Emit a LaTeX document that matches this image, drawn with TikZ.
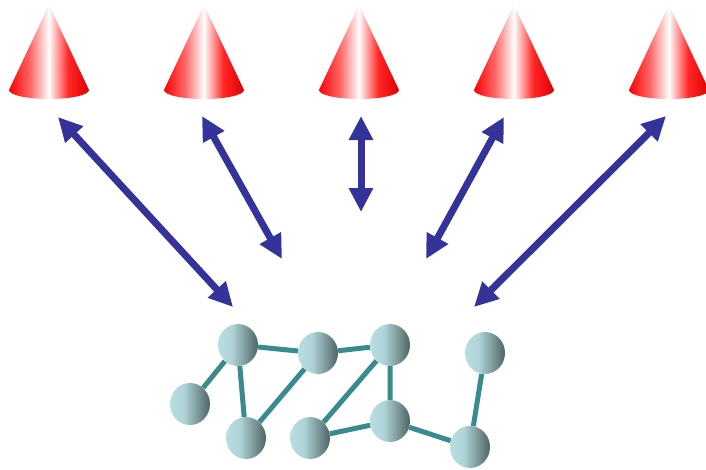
\documentclass[tikz,border=0pt]{standalone}
\usepackage{tikz}
\usetikzlibrary{arrows.meta, shapes.geometric, backgrounds}
\definecolor{arrowblue}{RGB}{51,51,153}
\definecolor{edgeteal}{RGB}{58,139,144}
\definecolor{balllight}{RGB}{184,222,226}
\definecolor{balldark}{RGB}{78,100,101}
\pgfdeclarehorizontalshading{conered}{100bp}{color(0bp)=(red); color(25bp)=(red); color(38bp)=(red!60); color(48bp)=(red!10); color(50bp)=(white); color(52bp)=(red!15); color(62bp)=(red!85); color(75bp)=(red!88!black); color(100bp)=(red!88!black)}
\pgfdeclarehorizontalshading{ballshade}{100bp}{color(0bp)=(balllight); color(25bp)=(balllight); color(42bp)=(balllight!92!balldark); color(75bp)=(balldark); color(100bp)=(balldark)}
\tikzset{
  ball/.style={ellipse, minimum width=40pt, minimum height=42pt, inner sep=0pt, shading=ballshade},
  bond/.style={edgeteal, line width=5pt},
  link/.style={arrowblue, line width=7pt, {Triangle[length=24pt,width=23pt]}-{Triangle[length=24pt,width=23pt]}},
}

\begin{document}
\begin{tikzpicture}[x=1pt,y=-1pt]
\useasboundingbox (0,0) rectangle (706,469);
% 圆锥
\foreach \x in {49,204,359,514,669}
  \shade[shading=conered] (\x,5) -- (\x-40,90) arc[start angle=180, end angle=0, x radius=40, y radius=9] -- cycle;
% 双向箭头
\coordinate (t1) at (58,117);  \coordinate (b1) at (233,307);
\coordinate (t2) at (202,116); \coordinate (b2) at (282,259);
\coordinate (t3) at (361,116); \coordinate (b3) at (361,212);
\coordinate (t4) at (504,117); \coordinate (b4) at (426,259);
\coordinate (t5) at (666,116); \coordinate (b5) at (474,307);
\foreach \i in {1,...,5}
  \draw[link] (t\i) -- (b\i);
% 网络节点
\node[ball] (a) at (238,345) {};
\node[ball] (b) at (318,353) {};
\node[ball] (c) at (390,345) {};
\node[ball] (d) at (485,353) {};
\node[ball] (e) at (190,404) {};
\node[ball] (f) at (246,438) {};
\node[ball] (g) at (310,438) {};
\node[ball] (h) at (390,421) {};
\node[ball] (i) at (470,447) {};
% 连线
\begin{scope}[on background layer]
\draw[bond] (a) -- (e) (a) -- (b) (a) -- (f) (b) -- (f) (b) -- (c)
  (c) -- (g) (c) -- (h) (g) -- (h) (h) -- (i) (i) -- (d);
\end{scope}
\end{tikzpicture}
\end{document}
